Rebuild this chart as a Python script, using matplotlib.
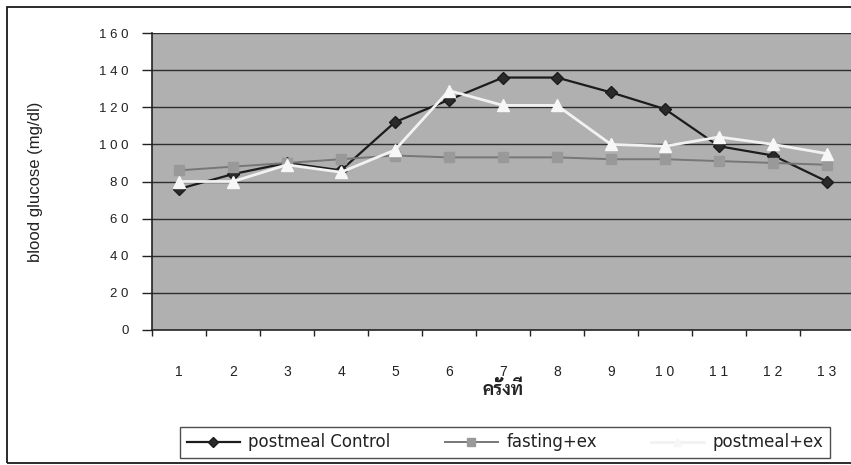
import matplotlib
matplotlib.use("Agg")
import matplotlib.pyplot as plt
from matplotlib.patches import Rectangle
import numpy as np

plt.rcParams['font.family'] = ['Liberation Sans', 'DejaVu Sans']

# readings 1..13
rounds = list(range(1, 14))
postmeal_control = [76, 84, 90, 86, 112, 124, 136, 136, 128, 119, 99, 94, 80]
fasting_ex = [86, 88, 90, 92, 94, 93, 93, 93, 92, 92, 91, 90, 89]
postmeal_ex = [80, 80, 89, 85, 97, 129, 121, 121, 100, 99, 104, 100, 95]
y_ticks = [0, 20, 40, 60, 80, 100, 120, 140, 160]

W, H = 851, 465
fig = plt.figure(figsize=(W / 100, H / 100), dpi=100, facecolor='white')

# plot area (runs a little past the right edge of the figure)
ax = fig.add_axes([152 / W, 135 / H, 702 / W, 297 / H])
ax.set_facecolor('#b0b0b0')
ax.set_xlim(0, 13)
ax.set_ylim(0, 160)

xpos = np.arange(len(rounds)) + 0.5

for y in y_ticks[1:]:
    ax.axhline(y, color='#2e2e2e', lw=1.0, zorder=1)

ax.plot(xpos, postmeal_control, color='#1c1c1c', lw=1.6, marker='D', ms=6.5,
        mfc='#2a2a2a', mec='#1c1c1c', zorder=3, label='postmeal Control')
ax.plot(xpos, fasting_ex, color='#777777', lw=1.4, marker='s', ms=7.5,
        mfc='#999999', mec='#999999', zorder=4, label='fasting+ex')
ax.plot(xpos, postmeal_ex, color='#f2f2f2', lw=2.0, marker='^', ms=8,
        mfc='#f7f7f7', mec='#f7f7f7', zorder=5, label='postmeal+ex')

for side in ['top', 'right']:
    ax.spines[side].set_visible(False)
for side in ['left', 'bottom']:
    ax.spines[side].set_color('#222222')
    ax.spines[side].set_linewidth(1.2)

ax.set_yticks(y_ticks)
ax.set_yticklabels([' '.join(str(v)) for v in y_ticks])
ax.tick_params(axis='y', direction='out', length=7, width=1, pad=10,
               labelsize=9.5, colors='#222222')

ax.set_xticks(np.arange(0, 14))
ax.set_xticklabels([])
ax.set_xticks(xpos, minor=True)
ax.set_xticklabels([' '.join(str(r)) for r in rounds], minor=True)
ax.tick_params(axis='x', which='major', direction='out', length=4, width=1,
               colors='#222222')
ax.tick_params(axis='x', which='minor', length=0, pad=25, labelsize=10,
               colors='#222222')

ax.set_ylabel('blood glucose (mg/dl)', fontsize=12, color='#222222')
ax.yaxis.set_label_coords(-109 / 702, 0.5)
ax.set_xlabel('ครั้งที่', fontsize=13, fontweight='bold', color='#222222',
              family=['Sarabun', 'Niramit', 'Bai Jamjuree', 'Chakra Petch', 'DejaVu Sans'])
ax.xaxis.set_label_coords(0.5, -60 / 297)
ax.xaxis.label.set_va('center')

handles, labels = ax.get_legend_handles_labels()
leg = fig.legend(handles, labels, ncol=3, loc='lower left',
                 bbox_to_anchor=(180 / W, 7 / H, 650 / W, 47 / H), mode='expand',
                 frameon=True, fancybox=False, edgecolor='#222222',
                 borderaxespad=0, handlelength=3.2, handletextpad=0.5,
                 markerscale=0.8, prop={'family': ['DejaVu Sans'], 'size': 12})
leg.get_frame().set_linewidth(1.0)
for t in leg.get_texts():
    t.set_color('#222222')

# outer chart frame
fig.add_artist(Rectangle((7 / W, 2 / H), 900 / W, 456 / H, transform=fig.transFigure,
                         fill=False, edgecolor='#1a1a1a', lw=1.3))

fig.savefig('out.png', dpi=100, facecolor='white')
